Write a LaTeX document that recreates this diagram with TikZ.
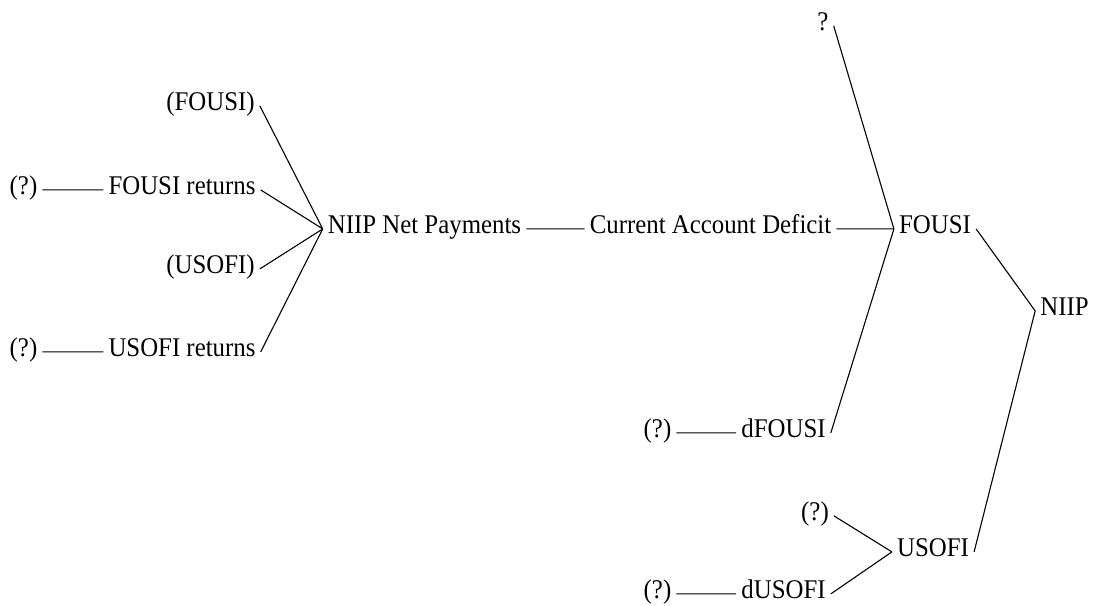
\documentclass[tikz,border=0pt]{standalone}
\usepackage{fontspec}
\setmainfont{Liberation Serif}[FakeStretch=0.92]
\tikzset{
  lbl/.style={anchor=base, inner xsep=5pt, inner ysep=0pt, text height=0.82em, text depth=0pt,
    font=\fontsize{27}{32}\selectfont},
  link/.style={draw, line width=1.1pt},
}
\begin{document}
\begin{tikzpicture}[x=1pt, y=-1pt]
    \useasboundingbox (0,0) rectangle (1105,605);

    % left side
    \node[lbl] (pfousi) at (210.5,110) {(FOUSI)};
    \node[lbl] (qa) at (23.5,194) {(?)};
    \node[lbl] (fousiret) at (182,194) {FOUSI returns};
    \node[lbl] (pusofi) at (210.5,273) {(USOFI)};
    \node[lbl] (qb) at (23.5,356) {(?)};
    \node[lbl] (usofiret) at (182,356) {USOFI returns};
    \node[lbl] (niipnp) at (424.5,233) {NIIP Net Payments};
    \node[lbl] (cad) at (710.5,233) {Current Account Deficit};

    % right side
    \node[lbl] (qtop) at (823,30) {?};
    \node[lbl] (fousi) at (935,233) {FOUSI};
    \node[lbl] (qc) at (657.5,437) {(?)};
    \node[lbl] (dfousi) at (783.5,437) {dFOUSI};
    \node[lbl] (niip) at (1064.5,315) {NIIP};
    \node[lbl] (qd) at (815,520) {(?)};
    \node[lbl] (usofi) at (933,556) {USOFI};
    \node[lbl] (qe) at (657.5,598) {(?)};
    \node[lbl] (dusofi) at (783.5,598) {dUSOFI};

    \path[link] (qa) -- (fousiret)
        (qb) -- (usofiret)
        (pfousi.east) -- (niipnp.west)
        (fousiret.east) -- (niipnp.west)
        (pusofi.east) -- (niipnp.west)
        (usofiret.east) -- (niipnp.west)
        (niipnp) -- (cad)
        (cad) -- (fousi)
        (qtop.east) -- (fousi.west)
        (qc) -- (dfousi)
        (dfousi.east) -- (fousi.west)
        (fousi.east) -- (niip.west)
        (qd.east) -- (usofi.west)
        (qe) -- (dusofi)
        (dusofi.east) -- (usofi.west)
        (usofi.east) -- (niip.west);
\end{tikzpicture}
\end{document}
